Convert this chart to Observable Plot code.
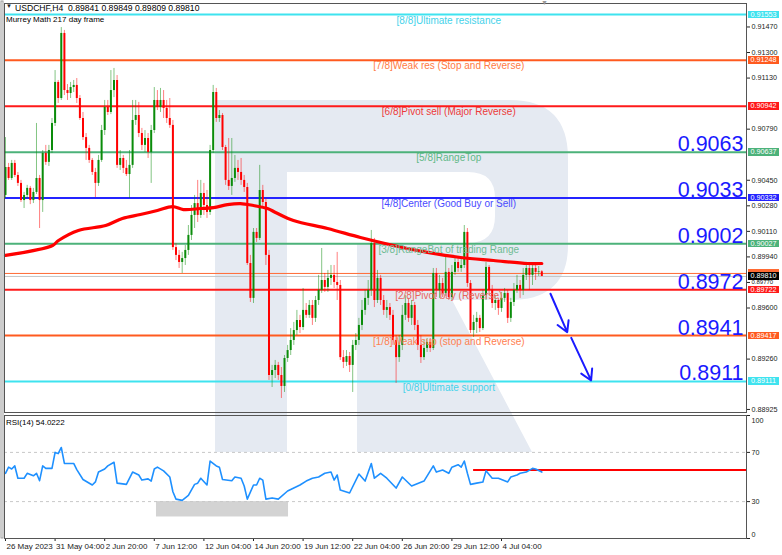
<!DOCTYPE html>
<html><head><meta charset="utf-8">
<script src="https://cdn.jsdelivr.net/npm/d3@7"></script>
<script src="https://cdn.jsdelivr.net/npm/@observablehq/plot@0.6"></script>
<style>
body{margin:0;background:#fff;font-family:"Liberation Sans",Arial,sans-serif;}
#wrap{position:relative;width:782px;height:555px;overflow:hidden;background:#fff;}
#wrap > svg{position:absolute;left:0;}
.ov{position:absolute;white-space:pre;color:#000;}
.box{position:absolute;left:748px;width:31px;height:7.5px;font-size:7.2px;line-height:7.5px;color:#fff;text-align:center;}
</style></head><body><div id="wrap"></div>
<script>
// ---------- DATA ----------
const candleOpen = [
0.90349,0.90535,0.90462,0.90562,0.90482,0.90429,0.90315,0.90349,0.90396,0.90315,
0.90369,0.90462,0.90315,0.90628,0.90569,0.90648,0.90828,0.91101,0.90994,0.91427,
0.91047,0.91027,0.91067,0.91081,0.90994,0.90861,0.90734,0.90662,0.90582,0.90502,
0.90429,0.90582,0.90781,0.90934,0.90901,0.91047,0.91114,0.90549,0.90595,0.90529,
0.90488,0.90549,0.90848,0.90881,0.90761,0.90682,0.90728,0.90635,0.90781,0.90981,
0.90934,0.90981,0.90928,0.90861,0.90815,0.90002,0.89950,0.89903,0.89929,0.89983,
0.90083,0.90216,0.90295,0.90216,0.90362,0.90282,0.90236,0.90648,0.91034,0.90861,
0.90881,0.90668,0.90449,0.90409,0.90462,0.90529,0.90502,0.90449,0.90402,0.89896,
0.89664,0.90103,0.90063,0.90382,0.90302,0.89950,0.89151,0.89184,0.89218,0.89151,
0.89078,0.89264,0.89317,0.89384,0.89450,0.89517,0.89470,0.89584,0.89551,0.89617,
0.89531,0.89650,0.89717,0.89783,0.89737,0.89797,0.89817,0.89770,0.89750,0.89270,
0.89238,0.89277,0.89218,0.89351,0.89384,0.89484,0.89584,0.89664,0.89717,0.90029,
0.89650,0.89797,0.89650,0.89584,0.89603,0.89551,0.89384,0.89270,0.89351,0.89551,
0.89630,0.89531,0.89617,0.89484,0.89351,0.89270,0.89331,0.89371,0.89331,0.89830,
0.89717,0.89763,0.89697,0.89837,0.89670,0.89837,0.89903,0.89863,0.89883,0.90103,
0.89763,0.89450,0.89504,0.89531,0.89463,0.89683,0.89870,0.89717,0.89630,0.89650,
0.89597,0.89664,0.89697,0.89531,0.89637,0.89717,0.89750,0.89717,0.89817,0.89863,
0.89817,0.89863,0.89837,0.89841];
const candleHigh = [
0.90734,0.90562,0.90582,0.90582,0.90502,0.90449,0.90369,0.90416,0.90409,0.90396,
0.90828,0.90482,0.90648,0.90682,0.90682,0.90861,0.91180,0.91114,0.91466,0.91447,
0.91087,0.91101,0.91114,0.91127,0.91014,0.90901,0.90761,0.90682,0.90595,0.90529,
0.90615,0.90815,0.90981,0.90981,0.91180,0.91194,0.91147,0.90648,0.90615,0.90582,
0.90648,0.90981,0.90981,0.90968,0.90795,0.90781,0.90761,0.90815,0.91067,0.91047,
0.91061,0.91047,0.90981,0.90994,0.90848,0.90029,0.89983,0.89970,0.90016,0.90149,
0.90282,0.90349,0.90449,0.90449,0.90429,0.90382,0.90682,0.91081,0.91061,0.90914,
0.90894,0.90682,0.90728,0.90728,0.90615,0.90582,0.90595,0.90482,0.90429,0.89950,
0.90129,0.90129,0.90549,0.90416,0.90329,0.89983,0.89218,0.89251,0.89238,0.89204,
0.89284,0.89351,0.89463,0.89504,0.89584,0.89551,0.89730,0.89630,0.89650,0.89650,
0.89677,0.89817,0.89996,0.89830,0.89850,0.89883,0.89883,0.89970,0.89783,0.89317,
0.89317,0.89304,0.89384,0.89430,0.89531,0.89650,0.89717,0.89783,0.90116,0.90063,
0.89850,0.89817,0.89683,0.89650,0.89630,0.89584,0.89417,0.89417,0.89617,0.89683,
0.89664,0.89650,0.89637,0.89517,0.89417,0.89384,0.89397,0.89397,0.89863,0.89863,
0.89817,0.89797,0.89950,0.89863,0.89883,0.89929,0.89929,0.89929,0.90149,0.90129,
0.89783,0.89551,0.89571,0.89551,0.89717,0.89903,0.89883,0.89750,0.89683,0.89664,
0.89704,0.89730,0.89717,0.89664,0.89763,0.89817,0.89783,0.89863,0.89903,0.89896,
0.89890,0.89883,0.89876,0.89849];
const candleLow = [
0.90329,0.90449,0.90449,0.90468,0.90409,0.90302,0.90262,0.90329,0.90288,0.90295,
0.90355,0.90129,0.90236,0.90549,0.90542,0.90628,0.90808,0.90961,0.90981,0.91014,
0.90981,0.90994,0.91034,0.90961,0.90848,0.90715,0.90582,0.90562,0.90482,0.90335,
0.90409,0.90569,0.90748,0.90881,0.90887,0.91000,0.90529,0.90515,0.90495,0.90475,
0.90329,0.90529,0.90815,0.90734,0.90648,0.90635,0.90595,0.90429,0.90761,0.90914,
0.90901,0.90861,0.90828,0.90795,0.89983,0.89916,0.89863,0.89830,0.89883,0.89950,
0.90049,0.90129,0.90169,0.90196,0.90216,0.90196,0.90216,0.90628,0.90835,0.90835,
0.90648,0.90416,0.90382,0.90349,0.90436,0.90449,0.90416,0.90369,0.89883,0.89637,
0.89630,0.90036,0.90049,0.90268,0.89883,0.89118,0.89071,0.89131,0.89118,0.88998,
0.89038,0.89238,0.89284,0.89351,0.89417,0.89430,0.89450,0.89531,0.89531,0.89484,
0.89504,0.89617,0.89697,0.89704,0.89704,0.89750,0.89730,0.89650,0.89251,0.89197,
0.89211,0.89171,0.89038,0.89317,0.89351,0.89450,0.89551,0.89617,0.89677,0.89603,
0.89630,0.89617,0.89551,0.89531,0.89517,0.89351,0.89098,0.89238,0.89317,0.89517,
0.89504,0.89484,0.89450,0.89317,0.89231,0.89251,0.89304,0.89304,0.89317,0.89670,
0.89664,0.89670,0.89677,0.89650,0.89650,0.89817,0.89837,0.89837,0.89863,0.89737,
0.89430,0.89404,0.89430,0.89437,0.89450,0.89650,0.89683,0.89597,0.89584,0.89551,
0.89571,0.89637,0.89497,0.89504,0.89610,0.89697,0.89664,0.89683,0.89783,0.89717,
0.89750,0.89783,0.89810,0.89809];
const candleClose = [
0.90535,0.90462,0.90562,0.90482,0.90429,0.90315,0.90349,0.90396,0.90315,0.90369,
0.90462,0.90315,0.90628,0.90569,0.90648,0.90828,0.91101,0.90994,0.91427,0.91047,
0.91027,0.91067,0.91081,0.90994,0.90861,0.90734,0.90662,0.90582,0.90502,0.90429,
0.90582,0.90781,0.90934,0.90901,0.91047,0.91114,0.90549,0.90595,0.90529,0.90488,
0.90549,0.90848,0.90881,0.90761,0.90682,0.90728,0.90635,0.90781,0.90981,0.90934,
0.90981,0.90928,0.90861,0.90815,0.90002,0.89950,0.89903,0.89929,0.89983,0.90083,
0.90216,0.90295,0.90216,0.90362,0.90282,0.90236,0.90648,0.91034,0.90861,0.90881,
0.90668,0.90449,0.90409,0.90462,0.90529,0.90502,0.90449,0.90402,0.89896,0.89664,
0.90103,0.90063,0.90382,0.90302,0.89950,0.89151,0.89184,0.89218,0.89151,0.89078,
0.89264,0.89317,0.89384,0.89450,0.89517,0.89470,0.89584,0.89551,0.89617,0.89531,
0.89650,0.89717,0.89783,0.89737,0.89797,0.89817,0.89770,0.89750,0.89270,0.89238,
0.89277,0.89218,0.89351,0.89384,0.89484,0.89584,0.89664,0.89717,0.90029,0.89650,
0.89797,0.89650,0.89584,0.89603,0.89551,0.89384,0.89270,0.89351,0.89551,0.89630,
0.89531,0.89617,0.89484,0.89351,0.89270,0.89331,0.89371,0.89331,0.89830,0.89717,
0.89763,0.89697,0.89837,0.89670,0.89837,0.89903,0.89863,0.89883,0.90103,0.89763,
0.89450,0.89504,0.89531,0.89463,0.89683,0.89870,0.89717,0.89630,0.89650,0.89597,
0.89664,0.89697,0.89531,0.89637,0.89717,0.89750,0.89717,0.89817,0.89863,0.89817,
0.89863,0.89837,0.89841,0.89810];

// moving average (read at sample candles)
const maIdx = [0,15.2,17.1,23.5,32.3,37.7,43.5,49,53.9,57.4,62.9,67.1,71.6,75.8,80,84.5,87.1,92.9,103.9,114.5,125.2,136.1,146.8,157.4,168.4,173];
const maVal = [0.89950,0.90016,0.90049,0.90116,0.90149,0.90196,0.90222,0.90249,0.90275,0.90255,0.90262,0.90268,0.90288,0.90295,0.90282,0.90262,0.90236,0.90182,0.90129,0.90069,0.90016,0.89970,0.89936,0.89916,0.89896,0.89896];

// Murrey Math levels
const murreyPrices = [0.91553,0.91248,0.90942,0.90637,0.90332,0.90027,0.89722,0.89417,0.89111];
const murreyNames = ["[8/8]Ultimate resistance","[7/8]Weak res (Stop and Reverse)","[6/8]Pivot sell (Major Reverse)","[5/8]RangeTop","[4/8]Center (Good Buy or Sell)","[3/8]RangeBot of trading Range","[2/8]Pivot buy (Reverse)","[1/8]Weak sup (stop and Reverse)","[0/8]Ultimate support"];
const murreyLineColors = ["#3fe3ef","#ff5a1f","#ff1a1a","#4cb27a","#2424ff","#4cb27a","#ff1a1a","#ff5a1f","#3fe3ef"];
const murreyTextColors = ["#45d2ea","#ff7a45","#ec3a3a","#5fb887","#4a4aff","#6fbb93","#e8645c","#ff8050","#45d2ea"];

// big target labels
const bigLevels = [0.90637,0.90332,0.90027,0.89722,0.89417,0.89111];
const bigLabels = ["0.9063","0.9033","0.9002","0.8972","0.8941","0.8911"];

// current prices
const bidPrice = 0.89810, askPrice = 0.89830;

// forecast arrows
const arrowX1 = [175.8,182.5], arrowY1 = [0.89695,0.89401];
const arrowX2 = [181.2,188.9], arrowY2 = [0.89439,0.89118];

// price axis ticks (those hidden under level boxes are left out)
const priceTicks = [0.91470,0.91300,0.91130,0.90790,0.90450,0.90280,0.90110,0.89940,0.89770,0.89600,0.89260,0.88925];
const squeezedTick = 0.89770; // drawn smaller: it sits between two price boxes

// RSI(14)
const rsiIdx = [0,1,2,3,4,6,7,9,10,11,12,13,15,16,17,18,19,22,23,25,28,29,30,32,33,35,36,39,41,43,44,46,47,48,49,51,53,54,55,57,59,61,62,63,65,66,68,69,70,73,74,76,77,78,80,81,82,83,84,86,88,91,93,95,97,99,101,103,105,106,107,108,111,114,116,118,119,121,123,126,128,131,135,138,139,141,143,144,146,147,148,149,150,152,154,155,157,159,162,163,165,166,168,170,171,173];
const rsiVal = [53,58,56.5,59,49,49,53,51,53,47,59,57,57,70,69,74,61,61,56,48,43.5,46,54,56.5,59,62,45,44,54,51.6,47.5,48.5,46.7,56.5,58,55,50,38,32,31,35,44,45,49,43.5,63,59,58,48,47,50,49,42.7,32,43.5,43.5,49,47.5,32,33,32,38.6,41,43.5,46.7,49,50,53,54,47.5,51.6,39.4,37,52.4,46.7,61,49,53,49,41,50,42.7,46.7,59,54,55.7,53,58,60,58,63,53,44,45,46,55,49,49,46,50,51.6,53,54,57,56.5,54.02];
const rsiTicks = [0,30,70,100];
const rsiLevels = [30,70];
const rsiLineFrom = 151, rsiLineValue = 55.7;
const rsiBoxX1 = 48.7, rsiBoxX2 = 91.3, rsiBoxLo = 17.5, rsiBoxHi = 30;

// time axis
const timeIdx = [0,16,32,48,64,80,96,112,128,144,160];
const timeLabels = ["26 May 2023","31 May 04:00","2 Jun 20:00","7 Jun 12:00","12 Jun 04:00","14 Jun 20:00","19 Jun 12:00","22 Jun 04:00","26 Jun 20:00","29 Jun 12:00","4 Jul 04:00"];

// ---------- LAYOUT ----------
const xDomain = [-0.32, 239.03];
const yDomain = [0.889047, 0.916262];
const labelAt = 143;
const font = "Liberation Sans, Arial, sans-serif";
const bull = "#0a8c0a", bear = "#ff0000";
const fmt5 = d3.format(".5f");

const wrap = document.getElementById("wrap");

// watermark logo in the background
const bg = d3.create("svg").attr("width",782).attr("height",555).style("top","0px");
bg.append("path")
  .attr("d","M215,100 L510,100 Q568,100 568,158 L568,245 Q568,300 510,300 L452,300 L532,452 L357,452 L357,243 L468,243 Q495,243 495,216 L495,198 Q495,172 468,172 L287,172 L287,452 L215,452 Z")
  .attr("fill","#e5eaf2");
bg.append("rect").attr("x",1).attr("y",1).attr("width",2).attr("height",537).attr("fill","none").attr("stroke","#9a9a9a");
wrap.appendChild(bg.node());

const candles = candleOpen.map((o,i)=>({i, o, h:candleHigh[i], l:candleLow[i], c:candleClose[i]}));
const levels = murreyPrices.map((p,k)=>({p, name:murreyNames[k], lc:murreyLineColors[k], tc:murreyTextColors[k]}));
const bigs = bigLevels.map((p,k)=>({p, t:bigLabels[k]}));
const arrows = arrowX1.map((x,k)=>({x1:x, y1:arrowY1[k], x2:arrowX2[k], y2:arrowY2[k]}));
const ma = maIdx.map((x,k)=>[x, maVal[k]]);
const col = d => d.c >= d.o ? bull : bear;

const main = Plot.plot({
  width:782, height:413, marginTop:3, marginRight:36, marginBottom:1, marginLeft:4,
  style:{background:"transparent", fontFamily:font, fontSize:"7.2px", color:"#222", overflow:"visible"},
  x:{domain:xDomain, axis:null},
  y:{domain:yDomain, axis:"right", ticks:priceTicks, tickFormat:d => d === squeezedTick ? "" : fmt5(d), tickSize:3, tickPadding:2, label:null},
  marks:[
    Plot.ruleY([bidPrice], {stroke:"#c4c4c4", strokeWidth:1}),
    Plot.ruleY([askPrice], {stroke:"#ff6a33", strokeWidth:1}),
    Plot.ruleY(levels, {y:"p", stroke:"lc", strokeWidth:2}),
    Plot.ruleX(candles, {x:"i", y1:"l", y2:"h", stroke:col, strokeOpacity:0.5, strokeWidth:1}),
    Plot.ruleX(candles, {x:"i", y1:"o", y2:d => Math.abs(d.c-d.o) < 0.00003 ? d.o-0.00003 : d.c, stroke:col, strokeWidth:2}),
    Plot.line(ma, {stroke:"#ff0000", strokeWidth:3.2, curve:"catmull-rom"}),
    Plot.text(levels, {x:labelAt, y:"p", text:"name", fill:"tc", fontSize:10, lineAnchor:"top", dy:2, fontFamily:font}),
    Plot.text(bigs, {y:"p", text:"t", frameAnchor:"right", textAnchor:"end", lineAnchor:"bottom", dx:-3, dy:-1, fontSize:21.5, fill:"#1a1aff", fontFamily:font}),
    Plot.arrow(arrows, {x1:"x1", y1:"y1", x2:"x2", y2:"y2", stroke:"#1a1aff", strokeWidth:2, headLength:9}),
    Plot.text([squeezedTick], {y:d => d, text:d => fmt5(d), frameAnchor:"right", textAnchor:"start", dx:5, fontSize:6, fill:"#222", fontFamily:font}),
    Plot.frame({stroke:"#555"})
  ]
});
main.style.top = "0px";
wrap.appendChild(main);

const rsi = rsiIdx.map((x,k)=>[x, rsiVal[k]]);
const rsiPlot = Plot.plot({
  width:782, height:142, marginTop:2, marginRight:36, marginBottom:17, marginLeft:4,
  style:{background:"transparent", fontFamily:font, fontSize:"7.2px", color:"#222", overflow:"visible"},
  x:{domain:xDomain, axis:"bottom", ticks:timeIdx, tickFormat:() => "", tickSize:3, label:null},
  y:{domain:[0,100], axis:"right", ticks:rsiTicks, tickSize:3, tickPadding:2, label:null,
     tickFormat:d => (d === 0 || d === 100) ? "" : String(d)},
  marks:[
    Plot.rect([{x1:rsiBoxX1, x2:rsiBoxX2, y1:rsiBoxLo, y2:rsiBoxHi}], {x1:"x1", x2:"x2", y1:"y1", y2:"y2", fill:"#d3d3d3"}),
    Plot.ruleY(rsiLevels, {stroke:"#c8c8c8", strokeDasharray:"3,3"}),
    Plot.ruleY([{v:rsiLineValue, from:rsiLineFrom}], {y:"v", x1:"from", x2:() => xDomain[1], stroke:"#ff0000", strokeWidth:2}),
    Plot.line(rsi, {stroke:"#1e90ff", strokeWidth:1.6}),
    Plot.text([rsiTicks[3]], {y:d => d, text:d => String(d), frameAnchor:"right", textAnchor:"start", dx:5, dy:5, fontSize:7.2, fill:"#222", fontFamily:font}),
    Plot.text([rsiTicks[0]], {y:d => d, text:d => String(d), frameAnchor:"right", textAnchor:"start", dx:5, dy:-4, fontSize:7.2, fill:"#222", fontFamily:font}),
    Plot.text(timeIdx, {x:d => d, text:(d,k) => timeLabels[k], frameAnchor:"bottom", textAnchor:"start", lineAnchor:"top", dx:1, dy:5, fontSize:8, fill:"#222", fontFamily:font}),
    Plot.frame({stroke:"#555"})
  ]
});
rsiPlot.style.top = "413px";
wrap.appendChild(rsiPlot);

// ---------- overlays: header texts and price boxes ----------
function addText(txt, left, top, size, color){
  const d = document.createElement("div");
  d.className = "ov"; d.textContent = txt;
  d.style.left = left+"px"; d.style.top = top+"px"; d.style.fontSize = size+"px";
  if (color) d.style.color = color;
  wrap.appendChild(d);
}
addText("\u25BC", 6, 3, 6, "#222");
addText("USDCHF,H4  0.89841 0.89849 0.89809 0.89810", 15, 2.5, 8.6);
addText("Murrey Math 217 day frame", 6, 14.5, 8);
addText("\u25BC", 541, -1, 7, "#9a9a9a");
addText("RSI(14) 54.0222", 6, 418, 8);

const ys = main.scale("y");
const yPx = ys.apply ? (v => ys.apply(v)) : d3.scaleLinear(ys.domain, ys.range);
const boxes = levels.map(l => ({p:l.p, c:l.lc, t:l.p.toFixed(5)}));
boxes.push({p:askPrice, c:"#ff6a33", t:""});
boxes.push({p:bidPrice, c:"#000000", t:bidPrice.toFixed(5)});
for (const b of boxes){
  const d = document.createElement("div");
  d.className = "box";
  d.textContent = b.t;
  d.style.background = b.c;
  d.style.top = (yPx(b.p) - 3.5) + "px";
  wrap.appendChild(d);
}
</script></body></html>
